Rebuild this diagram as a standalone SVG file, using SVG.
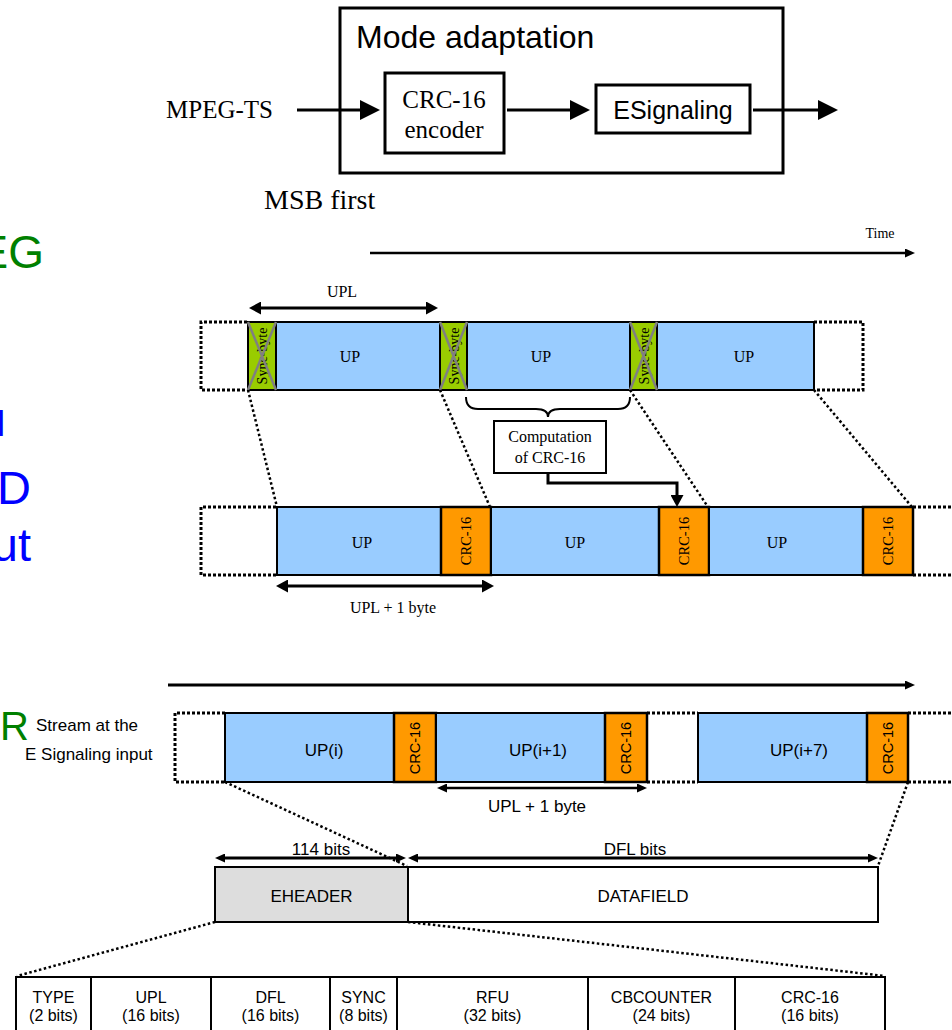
<svg xmlns="http://www.w3.org/2000/svg" width="952" height="1030" viewBox="0 0 952 1030">
<defs>
<style>
.serif{font-family:"Liberation Serif","Times New Roman",serif;fill:#000}
.sans{font-family:"Liberation Sans",Arial,sans-serif;fill:#000}
.box{fill:#fff;stroke:#000;stroke-width:3}
.thin{fill:#fff;stroke:#000;stroke-width:2}
.up{fill:#99CCFF;stroke:#000;stroke-width:2}
.sync{fill:#99CC00;stroke:#000;stroke-width:2}
.crc{fill:#FF9900;stroke:#000;stroke-width:2.5}
.x{stroke:#808080;stroke-width:2.5}
.dot{fill:none;stroke:#000;stroke-width:3;stroke-dasharray:3 2}
.dl{fill:none;stroke:#000;stroke-width:2.5;stroke-dasharray:2.5 2.5}
.arr{fill:none;stroke:#000}
</style>
<marker id="hb" markerUnits="userSpaceOnUse" markerWidth="20" markerHeight="20" refX="1" refY="10" orient="auto-start-reverse"><path d="M0,0 L20,10 L0,20 z" fill="#000"/></marker>
<marker id="hm" markerUnits="userSpaceOnUse" markerWidth="12" markerHeight="13" refX="1" refY="6.5" orient="auto-start-reverse"><path d="M0,0 L12,6.5 L0,13 z" fill="#000"/></marker>
<marker id="hs" markerUnits="userSpaceOnUse" markerWidth="10" markerHeight="9" refX="1" refY="4.5" orient="auto-start-reverse"><path d="M0,0 L10,4.5 L0,9 z" fill="#000"/></marker>
</defs>
<rect width="952" height="1030" fill="#fff"/>

<!-- partial texts on left (cut off at the left edge, as in the picture) -->
<g id="left-texts">
<text class="sans" x="44" y="268" font-size="46" text-anchor="end" style="fill:#008000">EG</text>
<text class="sans" x="5" y="436" font-size="35" text-anchor="end" style="fill:#0000FF">l</text>
<text class="sans" x="31" y="504" font-size="47" text-anchor="end" style="fill:#0000FF">D</text>
<text class="sans" x="31" y="561" font-size="47" text-anchor="end" style="fill:#0000FF">ut</text>
<text class="sans" x="29" y="740" font-size="40" text-anchor="end" style="fill:#008000">R</text>
<text class="sans" x="36" y="731" font-size="17">Stream at the</text>
<text class="sans" x="25" y="760" font-size="17">E Signaling input</text>
</g>

<!-- top block -->
<g id="mode-adaptation">
<rect class="box" x="340" y="8" width="443" height="165"/>
<text class="sans" x="356" y="48" font-size="32">Mode adaptation</text>
</g>
<g id="mpeg-ts"><text class="serif" x="166" y="118" font-size="25">MPEG-TS</text></g>
<g id="crc-encoder">
<rect class="box" x="385" y="73" width="119" height="80"/>
<text class="serif" x="444" y="108" font-size="25" text-anchor="middle">CRC-16</text>
<text class="serif" x="444" y="138" font-size="25" text-anchor="middle">encoder</text>
</g>
<g id="esignaling">
<rect class="box" x="596" y="85" width="154" height="48"/>
<text class="sans" x="673" y="119" font-size="25" text-anchor="middle">ESignaling</text>
</g>
<g id="msb"><text class="serif" x="264" y="209" font-size="28">MSB first</text></g>
<g id="time"><text class="serif" x="880" y="238" font-size="14" text-anchor="middle">Time</text></g>

<!-- row 1 -->
<g id="row1">
<path class="dot" d="M247,322 H201 V390 H247"/>
<path class="dot" d="M814,322 H863 V390 H814"/>
<rect class="up" x="276" y="322" width="164" height="68"/>
<rect class="up" x="467" y="322" width="163" height="68"/>
<rect class="up" x="657" y="322" width="157" height="68"/>
<rect class="sync" x="248" y="322" width="28" height="68"/>
<rect class="sync" x="440" y="322" width="27" height="68"/>
<rect class="sync" x="630" y="322" width="27" height="68"/>
<text class="serif" font-size="14" text-anchor="middle" transform="translate(262,356) rotate(-90)" y="5">Sync-byte</text>
<text class="serif" font-size="14" text-anchor="middle" transform="translate(453.5,356) rotate(-90)" y="5">Sync-byte</text>
<text class="serif" font-size="14" text-anchor="middle" transform="translate(643.5,356) rotate(-90)" y="5">Sync-byte</text>
<path class="x" d="M248,322 L276,390 M276,322 L248,390 M440,322 L467,390 M467,322 L440,390 M630,322 L657,390 M657,322 L630,390"/>
<text class="serif" x="350" y="362" font-size="16" text-anchor="middle">UP</text>
<text class="serif" x="541" y="362" font-size="16" text-anchor="middle">UP</text>
<text class="serif" x="744" y="362" font-size="16" text-anchor="middle">UP</text>
<text class="serif" x="342" y="297" font-size="16" text-anchor="middle">UPL</text>
</g>

<g id="computation">
<rect class="thin" x="494" y="421" width="112" height="52"/>
<text class="serif" x="550" y="442" font-size="16" text-anchor="middle">Computation</text>
<text class="serif" x="550" y="463" font-size="16" text-anchor="middle">of CRC-16</text>
</g>

<!-- row 2 -->
<g id="row2">
<path class="dot" d="M276,507 H201 V575 H276"/>
<path class="dot" d="M913,507 H955 M913,575 H955"/>
<rect class="up" x="277" y="507" width="164" height="68"/>
<rect class="crc" x="441" y="507" width="50" height="68"/>
<rect class="up" x="491" y="507" width="168" height="68"/>
<rect class="crc" x="659" y="507" width="50" height="68"/>
<rect class="up" x="709" y="507" width="154" height="68"/>
<rect class="crc" x="863" y="507" width="50" height="68"/>
<text class="serif" x="362" y="548" font-size="16" text-anchor="middle">UP</text>
<text class="serif" x="575" y="548" font-size="16" text-anchor="middle">UP</text>
<text class="serif" x="777" y="548" font-size="16" text-anchor="middle">UP</text>
<text class="serif" font-size="14.5" text-anchor="middle" transform="translate(466,541) rotate(-90)" y="5">CRC-16</text>
<text class="serif" font-size="14.5" text-anchor="middle" transform="translate(684,541) rotate(-90)" y="5">CRC-16</text>
<text class="serif" font-size="14.5" text-anchor="middle" transform="translate(888,541) rotate(-90)" y="5">CRC-16</text>
<text class="serif" x="393" y="613" font-size="16" text-anchor="middle">UPL + 1 byte</text>
</g>

<!-- row 3 -->
<g id="row3">
<path class="dot" d="M225,713 H175 V782 H225"/>
<path class="dot" d="M647,713 H698 M647,782 H698"/>
<path class="dot" d="M908,713 H955 M908,782 H955"/>
<rect class="up" x="225" y="713" width="169" height="69"/>
<rect class="crc" x="394" y="713" width="42" height="69"/>
<rect class="up" x="436" y="713" width="169" height="69"/>
<rect class="crc" x="605" y="713" width="42" height="69"/>
<rect class="up" x="698" y="713" width="169" height="69"/>
<rect class="crc" x="867" y="713" width="41" height="69"/>
<text class="sans" x="324" y="756" font-size="17" text-anchor="middle">UP(i)</text>
<text class="sans" x="538" y="756" font-size="17" text-anchor="middle">UP(i+1)</text>
<text class="sans" x="799" y="756" font-size="17" text-anchor="middle">UP(i+7)</text>
<text class="sans" font-size="14.5" text-anchor="middle" transform="translate(415,748) rotate(-90)" y="5">CRC-16</text>
<text class="sans" font-size="14.5" text-anchor="middle" transform="translate(626,748) rotate(-90)" y="5">CRC-16</text>
<text class="sans" font-size="14.5" text-anchor="middle" transform="translate(887.5,748) rotate(-90)" y="5">CRC-16</text>
<text class="sans" x="537" y="812" font-size="17" text-anchor="middle">UPL + 1 byte</text>
</g>

<!-- frame -->
<g id="frame">
<rect x="215" y="867" width="193" height="55" fill="#DDDDDD" stroke="#000" stroke-width="2"/>
<rect class="thin" x="408" y="867" width="470" height="55"/>
<text class="sans" x="311.5" y="902" font-size="17" text-anchor="middle">EHEADER</text>
<text class="sans" x="643" y="902" font-size="17" text-anchor="middle">DATAFIELD</text>
<text class="sans" x="321" y="855" font-size="17" text-anchor="middle">114 bits</text>
<text class="sans" x="635" y="855" font-size="17" text-anchor="middle">DFL bits</text>
</g>

<!-- header table -->
<g id="header-table">
<rect class="thin" x="16" y="977" width="869" height="60"/>
<path d="M91,977 V1037 M211,977 V1037 M330,977 V1037 M397,977 V1037 M588,977 V1037 M735,977 V1037" stroke="#000" stroke-width="2"/>
<g class="sans" font-size="16" text-anchor="middle">
<text x="53.5" y="1003">TYPE</text><text x="53.5" y="1021">(2 bits)</text>
<text x="151" y="1003">UPL</text><text x="151" y="1021">(16 bits)</text>
<text x="270.5" y="1003">DFL</text><text x="270.5" y="1021">(16 bits)</text>
<text x="363.5" y="1003">SYNC</text><text x="363.5" y="1021">(8 bits)</text>
<text x="492.5" y="1003">RFU</text><text x="492.5" y="1021">(32 bits)</text>
<text x="661.5" y="1003">CBCOUNTER</text><text x="661.5" y="1021">(24 bits)</text>
<text x="810" y="1003">CRC-16</text><text x="810" y="1021">(16 bits)</text>
</g>
</g>

<!-- connectors -->
<g id="connectors">
<line class="arr" x1="297" y1="110" x2="361" y2="110" stroke-width="3" marker-end="url(#hb)"/>
<line class="arr" x1="507" y1="110" x2="571" y2="110" stroke-width="3" marker-end="url(#hb)"/>
<line class="arr" x1="753" y1="110" x2="819" y2="110" stroke-width="3" marker-end="url(#hb)"/>
<line class="arr" x1="370" y1="253" x2="906" y2="253" stroke-width="2.5" marker-end="url(#hs)"/>
<line class="arr" x1="260" y1="308" x2="427" y2="308" stroke-width="3" marker-start="url(#hm)" marker-end="url(#hm)"/>
<path class="arr" stroke-width="2" d="M466,397 q0,12 12,12 h58 q12,0 12,8 q0,-8 12,-8 h58 q12,0 12,-12"/>
<path class="arr" stroke-width="3" d="M548,473 V483 H677 V496" marker-end="url(#hm)"/>
<line class="arr" x1="287" y1="586" x2="483" y2="586" stroke-width="3" marker-start="url(#hm)" marker-end="url(#hm)"/>
<line class="arr" x1="168" y1="685" x2="906" y2="685" stroke-width="3" marker-end="url(#hs)"/>
<line class="arr" x1="446" y1="788" x2="638" y2="788" stroke-width="2.5" marker-start="url(#hs)" marker-end="url(#hs)"/>
<line class="arr" x1="224" y1="858" x2="397" y2="858" stroke-width="3" marker-start="url(#hs)" marker-end="url(#hs)"/>
<line class="arr" x1="417" y1="858" x2="869" y2="858" stroke-width="3" marker-start="url(#hs)" marker-end="url(#hs)"/>
<path class="dl" d="M248,390 L277,507 M440,390 L490,507 M630,390 L708,507 M814,390 L912,507"/>
<path class="dl" d="M225,782 L407,866 M908,782 L878,866"/>
<path class="dl" d="M215,922 L17,976 M408,922 L885,976"/>
</g>
</svg>
